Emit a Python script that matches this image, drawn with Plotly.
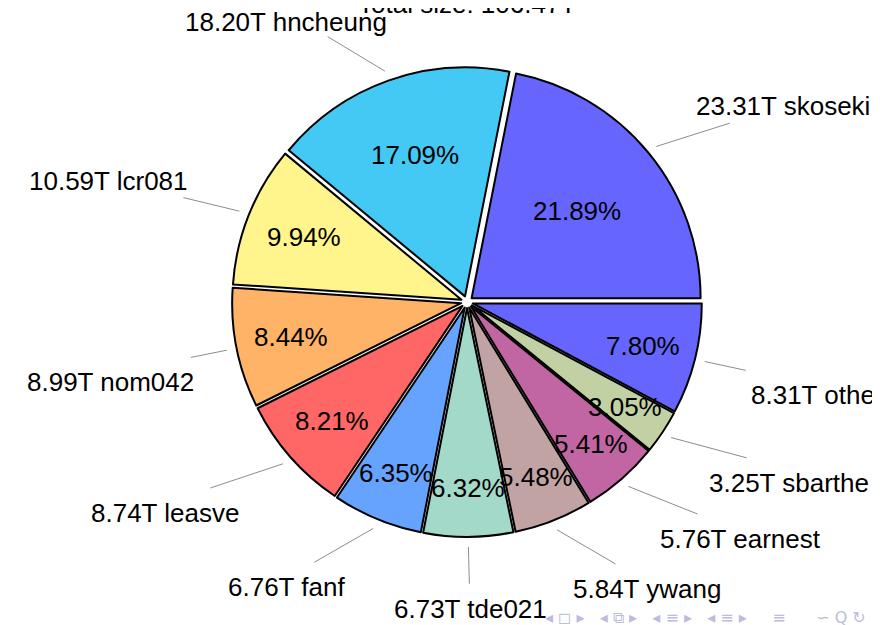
import numpy as np
import plotly.graph_objects as go

# ---- data ----
users = ["skoseki", "hncheung", "lcr081", "nom042", "leasve", "fanf",
         "tde021", "ywang", "earnest", "sbarthe", "others"]
sizes_tb = [23.31, 18.20, 10.59, 8.99, 8.74, 6.76, 6.73, 5.84, 5.76, 3.25, 8.31]
percents = [21.89, 17.09, 9.94, 8.44, 8.21, 6.35, 6.32, 5.48, 5.41, 3.05, 7.80]
total_label = "Total size: 106.47T"

# pgf-pie default palette (blue!60, cyan!60, yellow!60, ...)
colors = ["#6666ff", "#44c8f4", "#fff58c", "#ffb366", "#ff6666", "#66a3ff",
          "#a3d9c9", "#c2a3a3", "#c266a3", "#c2d1a3", "#6666ff"]

W, H = 880, 625
OFF = 8                    # the page body adds an 8px margin
VIEW_R = 872               # right edge that is still visible on the page
CX, CY = 467, 302          # pie centre, page px from top-left
R = 229                    # pie radius in px
PULL = 0.026
FONT = "Liberation Sans"
FS = 26


def to_paper(x, y):
    # page px -> paper coords of the figure
    return (x - OFF) / W, 1 - (y - OFF) / H


half = R * (1 + PULL)
frac = np.array(sizes_tb) / sum(sizes_tb)
x_lo, y_hi = to_paper(CX - half, CY - half)
x_hi, y_lo = to_paper(CX + half, CY + half)

fig = go.Figure(
    go.Pie(
        values=sizes_tb,
        labels=users,
        sort=False,
        direction="counterclockwise",
        # first slice starts at 3 o'clock and runs counter-clockwise
        rotation=90 - 360 * frac[0],
        pull=PULL,
        textinfo="none",
        hoverinfo="label+value+percent",
        marker=dict(colors=colors, line=dict(color="black", width=2)),
        domain=dict(x=[x_lo, x_hi], y=[y_lo, y_hi]),
        showlegend=False,
    )
)

# mid-angle of each slice (0 = 3 o'clock, counter-clockwise)
cum = np.concatenate([[0], np.cumsum(frac)[:-1]])
mids = 2 * np.pi * (cum + frac / 2)

shapes = []
annotations = []
for user, size, pct, th in zip(users, sizes_tb, percents, mids):
    c, s = np.cos(th), np.sin(th)

    # percentage inside the slice
    rt = R * (0.80 - 0.012 * max(0, pct - 5)) + R * PULL
    px_, py_ = to_paper(CX + rt * c, CY - rt * s)
    annotations.append(dict(x=px_, y=py_, xref="paper", yref="paper",
                            xanchor="center", yanchor="middle",
                            text=f"{pct:.2f}%", showarrow=False,
                            font=dict(family=FONT, size=FS, color="black")))

    # leader line
    sx, sy = CX + 1.07 * R * c, CY - 1.07 * R * s
    tilt = np.clip((abs(s) - 0.2) / 0.35, 0, 1) * min(1, abs(c) / 0.3)
    ex = CX + 1.23 * R * c + np.sign(c) * 45 * tilt
    ey = CY - 1.23 * R * s
    x0, y0 = to_paper(sx, sy)
    x1, y1 = to_paper(ex, ey)
    shapes.append(dict(type="line", xref="paper", yref="paper",
                       x0=x0, y0=y0, x1=x1, y1=y1,
                       line=dict(color="#8c8c8c", width=1)))

    # outside label
    text = f"{size:.2f}T {user}"
    w = 12.4 * len(text)
    shift = (0.45 + 0.7 * abs(c) ** 5) * min(1, abs(c) / 0.3)
    lx = ex + np.sign(c) * shift * w / 2
    ly = max(ey - np.sign(s) * 21 + 4, OFF + 14)
    over = lx + w / 2 - VIEW_R
    if 0 < over < 15:      # nudge labels that only just run off the page
        lx -= over + 2
    lxp, lyp = to_paper(lx, ly)
    annotations.append(dict(x=lxp, y=lyp, xref="paper", yref="paper",
                            xanchor="center", yanchor="middle",
                            text=text, showarrow=False,
                            font=dict(family=FONT, size=FS, color="black")))

# title, mostly cut off at the top of the slide
annotations.append(dict(x=(CX - OFF) / W, y=1 + 4 / H, xref="paper", yref="paper",
                        text=total_label, showarrow=False,
                        xanchor="center", yanchor="middle",
                        font=dict(family=FONT, size=FS, color="black")))

# beamer navigation symbols
nx, ny = to_paper(868, 617)
annotations.append(dict(x=nx, y=ny, xref="paper", yref="paper",
                        xanchor="right", yanchor="middle",
                        text="◂ ◻ ▸   ◂ ⧉ ▸   ◂ ≡ ▸   ◂ ≡ ▸     ≡      ∽ Q ↻",
                        showarrow=False,
                        font=dict(family="DejaVu Sans", size=16, color="#bcbcdf")))

fig.update_layout(
    width=W,
    height=H,
    margin=dict(l=0, r=0, t=0, b=0),
    paper_bgcolor="white",
    plot_bgcolor="white",
    shapes=shapes,
    annotations=annotations,
    showlegend=False,
)

fig.write_html("out.html")
